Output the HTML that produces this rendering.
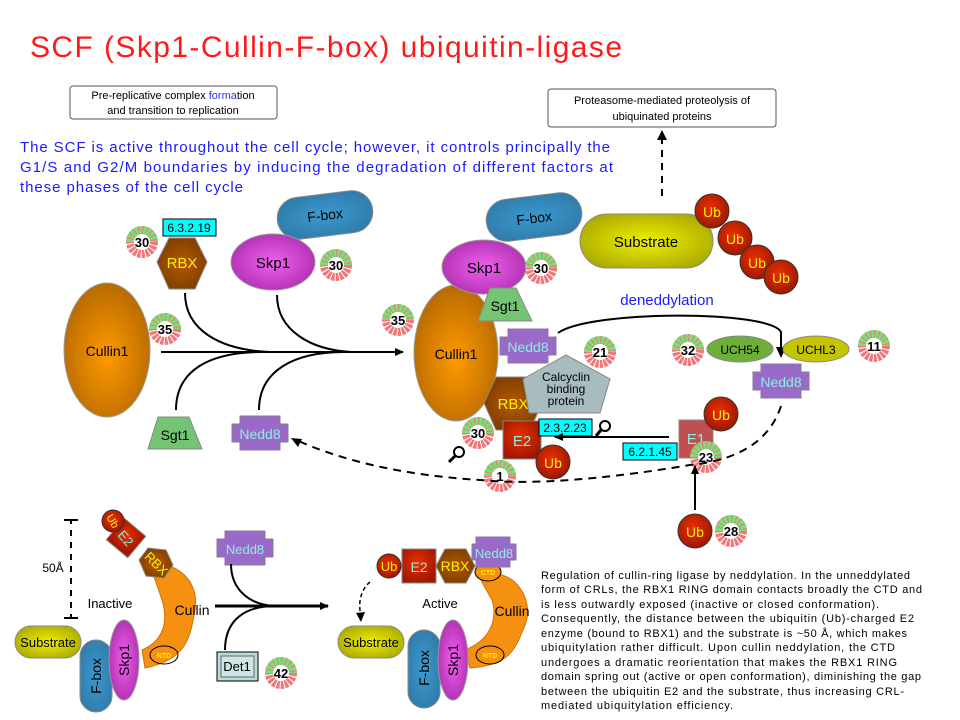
<!DOCTYPE html>
<html><head><meta charset="utf-8"><style>
html,body{margin:0;padding:0;background:#fff}
svg{display:block;font-family:"Liberation Sans",sans-serif}
</style></head><body>
<svg width="960" height="720" viewBox="0 0 960 720" xmlns="http://www.w3.org/2000/svg">
<defs>
<radialGradient id="org" cx="50%" cy="55%" r="55%"><stop offset="0" stop-color="#ff9a00"/><stop offset="1" stop-color="#b86a00"/></radialGradient>
<radialGradient id="mag" cx="50%" cy="50%" r="55%"><stop offset="0" stop-color="#f060f0"/><stop offset="1" stop-color="#b030b0"/></radialGradient>
<radialGradient id="blu" cx="50%" cy="50%" r="60%"><stop offset="0" stop-color="#3b9ad0"/><stop offset="1" stop-color="#2f7aa8"/></radialGradient>
<radialGradient id="yel" cx="50%" cy="50%" r="60%"><stop offset="0" stop-color="#f0f000"/><stop offset="1" stop-color="#a8a800"/></radialGradient>
<radialGradient id="red" cx="45%" cy="40%" r="60%"><stop offset="0" stop-color="#e83000"/><stop offset="1" stop-color="#a01800"/></radialGradient>
<radialGradient id="brn" cx="50%" cy="50%" r="60%"><stop offset="0" stop-color="#b45a00"/><stop offset="1" stop-color="#7a3a00"/></radialGradient>
<marker id="ar" markerWidth="10" markerHeight="10" refX="8" refY="5" orient="auto" markerUnits="userSpaceOnUse"><path d="M0,1 L9,5 L0,9 z" fill="#000"/></marker>
<g id="bd">
<circle r="12" fill="none" stroke="#f07878" stroke-width="8" stroke-dasharray="3,1"/>
<path d="M-12,0 A12,12 0 0 1 12,0" fill="none" stroke="#77e077" stroke-width="8" stroke-dasharray="3,1"/>
<circle r="8" fill="#fff"/>
</g>
<g id="nd"><path d="M-20,-17 h40 v8 h8 v18 h-8 v8 h-40 v-8 h-8 v-18 h8 z" fill="#9a6ac8" stroke="#8a7a9a"/></g>
</defs>

<text x="30" y="57" font-size="30" fill="#ff1a1a" textLength="592">SCF (Skp1-Cullin-F-box) ubiquitin-ligase</text>

<rect x="70" y="86" width="207" height="33" fill="#fff" stroke="#555" rx="3"/>
<text x="173" y="99" font-size="11" text-anchor="middle">Pre-replicative  complex <tspan fill="#3030ff">forma</tspan>tion</text>
<text x="173" y="114" font-size="11" text-anchor="middle">and transition to replication</text>
<rect x="548" y="89" width="228" height="38" fill="#fff" stroke="#555" rx="3"/>
<text x="662" y="104" font-size="11" text-anchor="middle">Proteasome-mediated  proteolysis of</text>
<text x="662" y="120" font-size="11" text-anchor="middle">ubiquinated  proteins</text>
<line x1="662" y1="196" x2="662" y2="138" stroke="#000" stroke-width="2" stroke-dasharray="7,6"/>
<path d="M657,140 L662,130 L667,140 z"/>

<g font-size="15" fill="#1a1aff">
<text x="20" y="152" textLength="590">The SCF is active throughout  the cell cycle; however, it controls principally the</text>
<text x="20" y="172" textLength="593">G1/S and G2/M boundaries by inducing the degradation of different factors at</text>
<text x="20" y="192" textLength="223">these  phases of the cell cycle</text>
</g>

<!-- left assembly -->
<ellipse cx="107" cy="350" rx="43" ry="67" fill="url(#org)" stroke="#999"/>
<text x="107" y="356" font-size="14" text-anchor="middle">Cullin1</text>
<use href="#bd" x="165" y="329"/><text x="165" y="334" font-size="13" font-weight="bold" text-anchor="middle">35</text>
<polygon points="157,262 169,238 195,238 207,262 195,289 169,289" fill="url(#brn)" stroke="#888"/>
<text x="182" y="268" font-size="15" fill="#ffee00" text-anchor="middle">RBX</text>
<rect x="163" y="219" width="53" height="17" fill="#00ffff" stroke="#000"/>
<text x="189" y="232" font-size="12" text-anchor="middle">6.3.2.19</text>
<use href="#bd" x="142" y="242"/><text x="142" y="247" font-size="13" font-weight="bold" text-anchor="middle">30</text>
<rect x="277" y="194" width="96" height="42" rx="21" fill="url(#blu)" stroke="#888" transform="rotate(-7 325 215)"/>
<text x="325" y="220" font-size="14" text-anchor="middle" transform="rotate(-7 325 215)">F-box</text>
<ellipse cx="273" cy="262" rx="42" ry="28" fill="url(#mag)" stroke="#999"/>
<text x="273" y="268" font-size="15" text-anchor="middle">Skp1</text>
<use href="#bd" x="336" y="265"/><text x="336" y="270" font-size="13" font-weight="bold" text-anchor="middle">30</text>
<line x1="161" y1="352" x2="403" y2="352" stroke="#000" stroke-width="2" marker-end="url(#ar)"/>
<path d="M185,293 C185,330 220,350 270,352 M277,295 C277,330 310,350 352,352 M176,410 C176,370 210,352 262,352 M259,410 C259,370 295,352 344,352" fill="none" stroke="#000" stroke-width="2"/>
<polygon points="158,417 189,417 202,449 148,449" fill="#74c474" stroke="#888"/>
<text x="175" y="440" font-size="14" text-anchor="middle">Sgt1</text>
<use href="#nd" x="260" y="433"/>
<text x="260" y="439" font-size="14" fill="#8af0e0" text-anchor="middle">Nedd8</text>

<!-- middle complex -->
<rect x="486" y="196" width="96" height="42" rx="21" fill="url(#blu)" stroke="#888" transform="rotate(-7 534 217)"/>
<text x="534" y="223" font-size="14" text-anchor="middle" transform="rotate(-7 534 217)">F-box</text>
<ellipse cx="456" cy="353" rx="42" ry="68" fill="url(#org)" stroke="#999"/>
<ellipse cx="484" cy="267" rx="42" ry="27" fill="url(#mag)" stroke="#999"/>
<text x="484" y="273" font-size="15" text-anchor="middle">Skp1</text>
<use href="#bd" x="541" y="268"/><text x="541" y="273" font-size="13" font-weight="bold" text-anchor="middle">30</text>
<polygon points="490,288 516,288 532,321 478,321" fill="#74c474" stroke="#888"/>
<text x="505" y="311" font-size="14" text-anchor="middle">Sgt1</text>
<text x="456" y="359" font-size="14" text-anchor="middle">Cullin1</text>
<use href="#bd" x="398" y="320"/><text x="398" y="325" font-size="13" font-weight="bold" text-anchor="middle">35</text>
<use href="#nd" x="528" y="346"/>
<text x="528" y="352" font-size="14" fill="#8af0e0" text-anchor="middle">Nedd8</text>
<use href="#bd" x="600" y="352"/><text x="600" y="357" font-size="13" font-weight="bold" text-anchor="middle">21</text>
<polygon points="484,403 496,377 530,377 542,403 530,430 496,430" fill="url(#brn)" stroke="#888"/>
<text x="513" y="409" font-size="15" fill="#ffee00" text-anchor="middle">RBX</text>
<polygon points="566,355 610,379 600,413 529,413 523,379" fill="#a8bcc0" stroke="#888"/>
<text x="566" y="381" font-size="12" text-anchor="middle">Calcyclin</text>
<text x="566" y="393" font-size="12" text-anchor="middle">binding</text>
<text x="566" y="405" font-size="12" text-anchor="middle">protein</text>
<rect x="503" y="421" width="38" height="38" fill="url(#red)" stroke="#888"/>
<text x="522" y="446" font-size="15" fill="#8af0e0" text-anchor="middle">E2</text>
<circle cx="553" cy="462" r="17" fill="url(#red)" stroke="#333"/>
<text x="553" y="468" font-size="14" fill="#ffee00" text-anchor="middle">Ub</text>
<rect x="539" y="419" width="53" height="17" fill="#00ffff" stroke="#000"/>
<text x="565" y="432" font-size="12" text-anchor="middle">2.3.2.23</text>
<use href="#bd" x="478" y="433"/><text x="478" y="438" font-size="13" font-weight="bold" text-anchor="middle">30</text>
<use href="#bd" x="500" y="476"/><text x="500" y="481" font-size="13" font-weight="bold" text-anchor="middle">1</text>
<circle cx="459" cy="452" r="5" fill="#fff" stroke="#000" stroke-width="2"/><line x1="455" y1="456" x2="449" y2="462" stroke="#000" stroke-width="3"/>
<circle cx="605" cy="426" r="5" fill="#fff" stroke="#000" stroke-width="2"/><line x1="601" y1="430" x2="596" y2="436" stroke="#000" stroke-width="3"/>

<!-- substrate & Ub -->
<rect x="580" y="214" width="133" height="54" rx="27" fill="url(#yel)" stroke="#888"/>
<text x="646" y="247" font-size="15" text-anchor="middle">Substrate</text>
<g font-size="14" fill="#ffee00" text-anchor="middle">
<circle cx="712" cy="211" r="17" fill="url(#red)" stroke="#333"/><text x="712" y="217">Ub</text>
<circle cx="735" cy="238" r="17" fill="url(#red)" stroke="#333"/><text x="735" y="244">Ub</text>
<circle cx="757" cy="262" r="17" fill="url(#red)" stroke="#333"/><text x="757" y="268">Ub</text>
<circle cx="781" cy="277" r="17" fill="url(#red)" stroke="#333"/><text x="781" y="283">Ub</text>
</g>
<text x="667" y="305" font-size="15" fill="#1a1aff" text-anchor="middle">deneddylation</text>
<path d="M558,333 C590,310 770,310 781,332 L781,348" fill="none" stroke="#000" stroke-width="2"/>
<path d="M776,347 L781,358 L786,347 z"/>
<ellipse cx="740" cy="349" rx="33" ry="13" fill="#6eae3a" stroke="#888"/>
<text x="740" y="354" font-size="12" text-anchor="middle">UCH54</text>
<ellipse cx="816" cy="349" rx="33" ry="13" fill="#c4c400" stroke="#888"/>
<text x="816" y="354" font-size="12" text-anchor="middle">UCHL3</text>
<use href="#bd" x="688" y="350"/><text x="688" y="355" font-size="13" font-weight="bold" text-anchor="middle">32</text>
<use href="#bd" x="874" y="346"/><text x="874" y="351" font-size="13" font-weight="bold" text-anchor="middle">11</text>
<use href="#nd" x="781" y="381"/>
<text x="781" y="387" font-size="14" fill="#8af0e0" text-anchor="middle">Nedd8</text>
<rect x="679" y="420" width="34" height="38" fill="#c05050" stroke="#888"/>
<text x="696" y="444" font-size="15" fill="#8af0e0" text-anchor="middle">E1</text>
<circle cx="721" cy="414" r="17" fill="url(#red)" stroke="#333"/>
<text x="721" y="420" font-size="14" fill="#ffee00" text-anchor="middle">Ub</text>
<use href="#bd" x="706" y="457"/><text x="706" y="462" font-size="13" font-weight="bold" text-anchor="middle">23</text>
<rect x="623" y="443" width="54" height="17" fill="#00ffff" stroke="#000"/>
<text x="650" y="456" font-size="12" text-anchor="middle">6.2.1.45</text>
<line x1="669" y1="437" x2="555" y2="437" stroke="#000" stroke-width="2" marker-end="url(#ar)"/>
<line x1="695" y1="510" x2="695" y2="466" stroke="#000" stroke-width="2" marker-end="url(#ar)"/>
<circle cx="695" cy="531" r="17" fill="url(#red)" stroke="#333"/>
<text x="695" y="537" font-size="14" fill="#ffee00" text-anchor="middle">Ub</text>
<use href="#bd" x="731" y="531"/><text x="731" y="536" font-size="13" font-weight="bold" text-anchor="middle">28</text>
<path d="M781,406 C770,440 740,460 690,465 C600,480 530,485 480,480 C400,475 340,460 294,439" fill="none" stroke="#000" stroke-width="2" stroke-dasharray="8,6"/>
<path d="M291,438 L302,439 L298,447 z"/>

<!-- bottom left inactive -->
<path d="M64,520 H78 M71,520 V618 M64,618 H78" stroke="#000" stroke-width="2"/>
<line x1="71" y1="524" x2="71" y2="614" stroke="#fff" stroke-width="3" stroke-dasharray="6,6"/>
<text x="53" y="572" font-size="12" text-anchor="middle">50Å</text>
<text x="110" y="608" font-size="13" text-anchor="middle">Inactive</text>
<path d="M150,565 C175,560 200,580 195,610 C190,640 185,660 145,668 L142,650 C165,640 168,620 162,600 Z" fill="#f59010" stroke="#d07010"/>
<ellipse cx="164" cy="655" rx="14" ry="9" fill="none" stroke="#000"/>
<text x="164" y="658" font-size="7" fill="#ffee00" font-weight="bold" text-anchor="middle">NTD</text>
<text x="192" y="615" font-size="14" text-anchor="middle">Cullin</text>
<rect x="112" y="524" width="28" height="28" fill="url(#red)" stroke="#888" transform="rotate(40 126 538)"/>
<text x="126" y="543" font-size="13" fill="#8af0e0" text-anchor="middle" transform="rotate(50 126 538)">E2</text>
<polygon points="139,560 148,548 166,550 173,565 164,578 146,576" fill="url(#brn)" stroke="#888"/>
<text x="156" y="568" font-size="13" fill="#ffee00" text-anchor="middle" transform="rotate(45 156 564)">RBX</text>
<circle cx="113" cy="521" r="11" fill="url(#red)" stroke="#333"/>
<text x="113" y="525" font-size="11" fill="#ffee00" text-anchor="middle" transform="rotate(60 113 521)">Ub</text>
<rect x="15" y="626" width="66" height="32" rx="16" fill="url(#yel)" stroke="#888"/>
<text x="48" y="647" font-size="13" text-anchor="middle">Substrate</text>
<rect x="80" y="640" width="32" height="72" rx="16" fill="url(#blu)" stroke="#888"/>
<text x="0" y="0" font-size="14" text-anchor="middle" transform="translate(101 676) rotate(-90)">F-box</text>
<ellipse cx="124" cy="660" rx="15" ry="40" fill="url(#mag)" stroke="#999"/>
<text x="0" y="0" font-size="14" text-anchor="middle" transform="translate(129 660) rotate(-90)">Skp1</text>

<!-- middle arrow -->
<use href="#nd" x="245" y="548"/>
<text x="245" y="554" font-size="13" fill="#8af0e0" text-anchor="middle">Nedd8</text>
<line x1="215" y1="606" x2="328" y2="606" stroke="#000" stroke-width="3" marker-end="url(#ar)"/>
<path d="M231,564 C231,590 250,605 275,606 M225,650 C225,620 245,606 275,606" fill="none" stroke="#000" stroke-width="2"/>
<rect x="217" y="652" width="41" height="29" fill="#b8dcdc" stroke="#000"/>
<rect x="221" y="656" width="33" height="21" fill="#cce6e6" stroke="#666"/>
<text x="237" y="671" font-size="13" text-anchor="middle">Det1</text>
<use href="#bd" x="281" y="673"/><text x="281" y="678" font-size="13" font-weight="bold" text-anchor="middle">42</text>

<!-- bottom right active -->
<text x="440" y="608" font-size="13" text-anchor="middle">Active</text>
<path d="M478,575 C515,565 535,600 525,625 C515,650 510,665 470,668 L465,650 C490,640 498,620 492,600 Z" fill="#f59010" stroke="#d07010"/>
<ellipse cx="488" cy="572" rx="13" ry="9" fill="#f59010" stroke="#000"/>
<text x="488" y="575" font-size="7" fill="#ffee00" font-weight="bold" text-anchor="middle">CTD</text>
<ellipse cx="490" cy="655" rx="14" ry="9" fill="none" stroke="#000"/>
<text x="490" y="658" font-size="7" fill="#ffee00" font-weight="bold" text-anchor="middle">NTD</text>
<text x="512" y="616" font-size="14" text-anchor="middle">Cullin</text>
<circle cx="389" cy="566" r="12" fill="url(#red)" stroke="#333"/>
<text x="389" y="571" font-size="13" fill="#ffee00" text-anchor="middle">Ub</text>
<rect x="402" y="549" width="34" height="34" fill="url(#red)" stroke="#888"/>
<text x="419" y="572" font-size="14" fill="#8af0e0" text-anchor="middle">E2</text>
<polygon points="436,566 445,549 466,549 475,566 466,583 445,583" fill="url(#brn)" stroke="#888"/>
<text x="455" y="571" font-size="14" fill="#ffee00" text-anchor="middle">RBX</text>
<path d="M476,537 h34 v7 h6 v16 h-6 v7 h-34 v-7 h-4 v-16 h4 z" fill="#9a6ac8" stroke="#8a7a9a"/>
<text x="494" y="558" font-size="13" fill="#8af0e0" text-anchor="middle">Nedd8</text>
<path d="M370,582 C360,590 358,605 361,615" fill="none" stroke="#000" stroke-width="1.5" stroke-dasharray="4,3"/>
<path d="M356,613 L361,622 L365,612 z"/>
<rect x="338" y="626" width="66" height="32" rx="16" fill="url(#yel)" stroke="#888"/>
<text x="371" y="647" font-size="13" text-anchor="middle">Substrate</text>
<rect x="408" y="630" width="32" height="78" rx="16" fill="url(#blu)" stroke="#888"/>
<text x="0" y="0" font-size="14" text-anchor="middle" transform="translate(429 668) rotate(-90)">F-box</text>
<ellipse cx="453" cy="660" rx="15" ry="40" fill="url(#mag)" stroke="#999"/>
<text x="0" y="0" font-size="14" text-anchor="middle" transform="translate(458 660) rotate(-90)">Skp1</text>

<!-- paragraph -->
<g font-size="11" fill="#000">
<text x="541" y="579" textLength="369">Regulation of cullin-ring ligase by neddylation.  In the unneddylated</text>
<text x="541" y="593" textLength="381">form of CRLs, the RBX1 RING domain  contacts broadly the CTD and</text>
<text x="541" y="608" textLength="338">is less outwardly exposed  (inactive or closed conformation).</text>
<text x="541" y="622" textLength="373">Consequently, the distance between the ubiquitin (Ub)-charged  E2</text>
<text x="541" y="637" textLength="366">enzyme  (bound  to RBX1) and the substrate is ~50 Å, which makes</text>
<text x="541" y="651" textLength="354">ubiquitylation rather difficult. Upon cullin neddylation,  the CTD</text>
<text x="541" y="666" textLength="356">undergoes  a dramatic  reorientation that makes  the RBX1 RING</text>
<text x="541" y="680" textLength="380">domain  spring out (active or open conformation),  diminishing  the gap</text>
<text x="541" y="695" textLength="363">between  the ubiquitin E2 and the substrate, thus increasing CRL-</text>
<text x="541" y="709" textLength="192">mediated  ubiquitylation efficiency.</text>
</g>
</svg>
</body></html>
